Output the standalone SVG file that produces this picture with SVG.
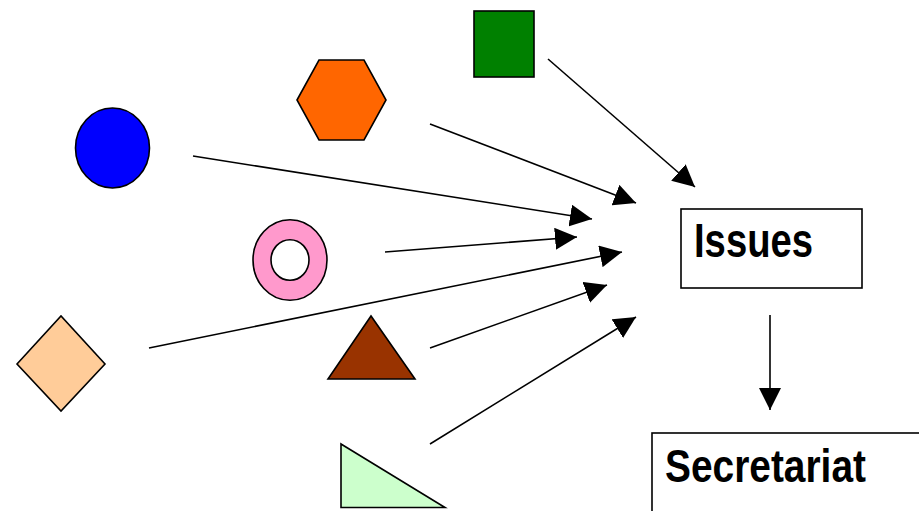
<svg xmlns="http://www.w3.org/2000/svg" width="919" height="511" viewBox="0 0 919 511">
<style>
.shape{stroke:#000;stroke-width:1.6;stroke-linejoin:miter}
.conn{stroke:#000;stroke-width:1.6;fill:none;marker-end:url(#ah)}
.box{fill:#fff;stroke:#000;stroke-width:1.6}
.lbl{font-family:"Liberation Sans",Arial,sans-serif;font-weight:bold;fill:#000}
</style>
<defs>
<marker id="ah" markerUnits="userSpaceOnUse" markerWidth="22" markerHeight="22" refX="20" refY="10" orient="auto" viewBox="0 0 20 20">
<path d="M0,0 L20,10 L0,20 z" fill="#000"/>
</marker>
</defs>
<rect width="919" height="511" fill="#fff"/>
<g id="square"><rect class="shape" x="474" y="11" width="60" height="66" fill="#008000"/></g>
<g id="hexagon"><polygon class="shape" points="297,100 319,60 364,60 386,100 364,140 319,140" fill="#FF6600"/></g>
<g id="circle"><ellipse class="shape" cx="112.5" cy="148" rx="37" ry="40" fill="#0000FF"/></g>
<g id="ring"><path class="shape" fill="#FF99CC" fill-rule="evenodd" d="M253,260 a37,40.3 0 1,0 74,0 a37,40.3 0 1,0 -74,0 z M271,260 a19,20.3 0 1,0 38,0 a19,20.3 0 1,0 -38,0 z"/></g>
<g id="diamond"><polygon class="shape" points="17,364 61,316 105,364 61,411" fill="#FFCC99"/></g>
<g id="triangle"><polygon class="shape" points="371,316 328,379 415,379" fill="#993300"/></g>
<g id="right-triangle"><polygon class="shape" points="341,444 341,507.5 445,507.5" fill="#CCFFCC"/></g>
<g id="issues"><rect class="box" x="681" y="209" width="181" height="79"/><text class="lbl" x="694" y="257" font-size="48" textLength="119" lengthAdjust="spacingAndGlyphs">Issues</text></g>
<g id="secretariat"><rect class="box" x="652" y="433" width="280" height="100"/><text class="lbl" x="665" y="482" font-size="46" textLength="201" lengthAdjust="spacingAndGlyphs">Secretariat</text></g>
<g id="connectors">
<line class="conn" x1="548" y1="59" x2="695" y2="187"/>
<line class="conn" x1="430" y1="124" x2="636" y2="203"/>
<line class="conn" x1="193" y1="156" x2="592" y2="219"/>
<line class="conn" x1="385" y1="252" x2="577" y2="237"/>
<line class="conn" x1="149" y1="348" x2="622" y2="252"/>
<line class="conn" x1="430" y1="348" x2="607" y2="285"/>
<line class="conn" x1="430" y1="444" x2="636" y2="317"/>
<line class="conn" x1="770" y1="315" x2="770" y2="410"/>
</g>
</svg>
